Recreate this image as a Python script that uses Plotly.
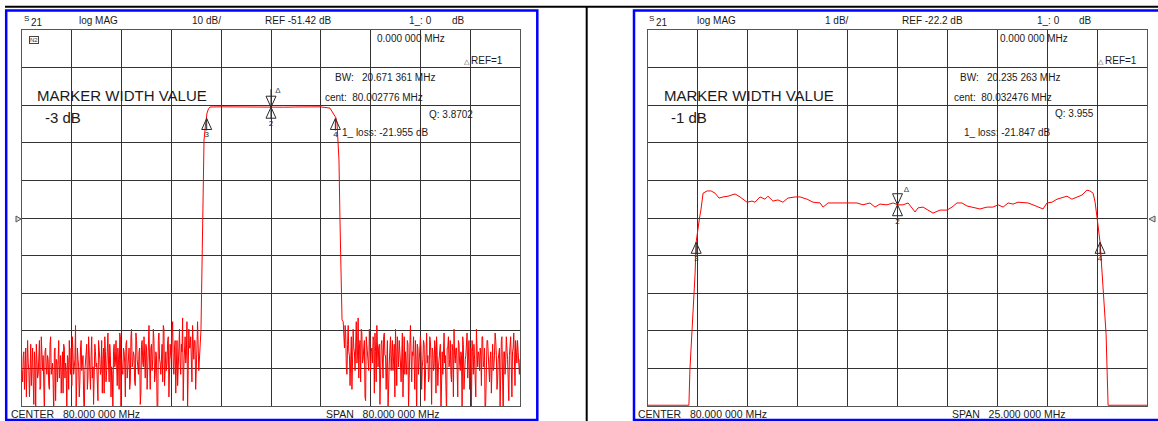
import numpy as np
import plotly.graph_objects as go

W, H = 1158, 421
FONT = "Liberation Sans, Arial, sans-serif"

# ---------------- Left screen: S21 log MAG, 10 dB/div ----------------
L_CENTER_MHZ = 80.0
L_SPAN_MHZ = 80.0
L_REF_DB = -51.42
L_DB_PER_DIV = 10.0

L_NOISE_LOW_RANGE = (40.0, 68.4)
L_NOISE_LOW_DB = [
    -92, -88, -97, -86, -94, -90, -99, -85, -91, -95,
    -87, -102, -89, -93, -84, -96, -90, -88, -104, -86,
    -93, -89, -97, -83, -91, -95, -87, -100, -90, -85,
    -94, -88, -92, -98, -86, -90, -103, -89, -84, -93,
    -96, -87, -91, -80, -95, -89, -99, -86, -92, -88,
    -105, -90, -85, -94, -88, -97, -83, -91, -96, -87,
    -90, -100, -86, -93, -84, -89, -98, -87, -92, -82,
    -95, -88, -91, -103, -85, -90, -94, -86, -97, -83,
    -89, -93, -87, -99, -84, -91, -86, -95, -81, -90,
    -88, -96, -84, -92, -87, -101, -85, -90, -83, -94,
    -86, -91, -80, -97, -85, -89, -84, -93, -88, -104,
    -82, -90, -86, -95, -81, -88, -92, -84, -99, -85,
    -89, -79, -93, -84, -87, -96, -82, -90, -85, -78,
    -91, -83, -88, -102, -81, -86, -94, -80, -89, -84,
    -87, -79, -92,
]
# readings taken half-way between the samples above
L_NOISE_LOW_MID_DB = [
    -95, -87, -90, -99, -84, -92, -88, -96, -86, -101,
    -90, -85, -94, -89, -97, -83, -92, -100, -87, -91,
    -88, -96, -85, -93, -90, -104, -86, -89, -95, -84,
    -91, -98, -87, -85, -94, -92, -88, -97, -90, -86,
    -83, -93, -89, -102, -86, -91, -95, -84, -88, -99,
    -92, -86, -97, -83, -90, -88, -94, -101, -85, -91,
    -96, -84, -89, -92, -98, -86, -83, -95, -88, -90,
    -85, -99, -93, -87, -91, -84, -96, -89, -82, -103,
    -92, -86, -90, -85, -94, -88, -97, -83, -91, -87,
    -95, -82, -89, -93, -86, -98, -84, -91, -88, -85,
    -97, -83, -90, -86, -92, -81, -95, -87, -102, -84,
    -89, -93, -85, -80, -96, -87, -90, -83, -94, -88,
    -82, -91, -86, -98, -84, -89, -81, -93, -87, -100,
    -85, -90, -79, -92, -86, -83, -95, -88, -84, -97,
    -86, -90,
]
L_NOISE_HIGH_RANGE = (91.6, 120.0)
L_NOISE_HIGH_DB = [
    -79, -86, -82, -93, -80, -88, -84, -97, -81, -87,
    -83, -90, -78, -86, -95, -82, -89, -84, -100, -85,
    -88, -81, -92, -86, -83, -98, -87, -80, -91, -85,
    -89, -84, -94, -82, -88, -86, -103, -90, -83, -87,
    -92, -85, -81, -96, -88, -84, -90, -86, -99, -83,
    -87, -93, -85, -89, -80, -95, -88, -91, -84, -105,
    -86, -90, -83, -97, -89, -85, -92, -82, -88, -94,
    -84, -101, -87, -91, -86, -83, -96, -89, -85, -90,
    -93, -82, -88, -104, -86, -91, -84, -95, -87, -81,
    -90, -86, -99, -85, -92, -88, -83, -97, -89, -86,
    -94, -84, -90, -102, -87, -85, -93, -81, -91, -88,
    -86, -96, -83, -90, -105, -87, -84, -92, -89, -98,
    -85, -91, -82, -88, -95, -86, -103, -84, -90, -87,
    -93, -83, -89, -100, -85, -91, -87, -82, -96, -88,
    -84, -92, -89,
]
L_NOISE_HIGH_MID_DB = [
    -84, -80, -91, -85, -87, -96, -83, -89, -86, -92,
    -79, -88, -94, -84, -81, -90, -86, -99, -83, -88,
    -92, -85, -87, -90, -84, -82, -95, -89, -86, -101,
    -85, -91, -83, -88, -97, -84, -90, -86, -92, -84,
    -89, -99, -87, -83, -91, -86, -95, -82, -88, -93,
    -90, -84, -102, -86, -92, -87, -83, -97, -89, -85,
    -93, -88, -86, -91, -84, -100, -87, -90, -95, -83,
    -89, -86, -92, -84, -98, -88, -91, -85, -104, -87,
    -84, -90, -96, -86, -83, -89, -93, -85, -99, -88,
    -86, -92, -84, -90, -87, -103, -85, -91, -88, -82,
    -90, -97, -86, -84, -93, -89, -99, -85, -87, -92,
    -88, -83, -91, -86, -100, -84, -90, -95, -87, -85,
    -92, -88, -84, -97, -89, -86, -91, -83, -105, -87,
    -90, -85, -94, -88, -83, -99, -86, -92, -84, -90,
    -87, -93,
]
L_PASS_F = [68.75, 68.92, 69.08, 69.24, 69.48, 69.72, 69.96, 70.2, 72.0, 74.0,
            76.0, 78.0, 80.0, 82.0, 84.0, 86.0, 87.9, 89.48, 89.96, 90.44,
            90.6, 90.76, 90.92, 91.08, 91.24, 91.41]
L_PASS_DB = [-81.2, -59.9, -36.0, -30.7, -26.7, -23.5, -22.4, -21.9, -21.85, -21.9,
             -21.95, -21.95, -21.955, -21.95, -21.9, -21.9, -21.85, -22.2, -23.5, -24.8,
             -26.2, -30.7, -36.0, -51.9, -67.9, -78.5]
L_MARK_F = [80.0, 80.0, 69.67, 90.34]
L_MARK_DB = [-21.955, -21.955, -24.955, -24.955]
MARK_LABELS = ["1", "2", "3", "4"]

# ---------------- Right screen: S21 log MAG, 1 dB/div ----------------
R_CENTER_MHZ = 80.0
R_SPAN_MHZ = 25.0
R_REF_DB = -22.2
R_DB_PER_DIV = 1.0

R_F = [67.5, 69.55, 69.6, 69.7, 69.8, 69.86, 69.91, 69.98, 70.08, 70.15,
       70.26, 70.46, 70.66, 70.86, 71.06, 71.26, 71.51, 71.86, 72.11, 72.46,
       72.71, 72.86, 73.11, 73.36, 73.51, 73.76, 74.01, 74.26, 74.51, 74.87,
       75.12, 75.47, 75.77, 76.12, 76.27, 76.52, 76.97, 77.27, 77.62, 77.97,
       78.27, 78.62, 78.87, 79.12, 79.47, 79.78, 80.03, 80.28, 80.53, 80.73,
       80.88, 81.03, 81.28, 81.78, 82.13, 82.48, 82.73, 82.98, 83.23, 83.48,
       83.78, 84.13, 84.48, 84.78, 85.04, 85.29, 85.54, 85.79, 86.04, 86.29,
       86.54, 86.79, 87.04, 87.29, 87.49, 87.74, 87.99, 88.24, 88.49, 88.74,
       88.99, 89.24, 89.49, 89.64, 89.8, 89.9, 90.0, 90.15, 90.25, 90.35,
       90.45, 90.5, 90.55, 92.5]
R_DB = [-27.18, -27.18, -26.24, -25.29, -24.38, -23.66, -22.85, -22.52, -22.2, -21.99,
        -21.54, -21.48, -21.48, -21.54, -21.67, -21.64, -21.62, -21.56, -21.64, -21.78,
        -21.75, -21.78, -21.64, -21.7, -21.62, -21.75, -21.72, -21.78, -21.67, -21.64,
        -21.64, -21.7, -21.78, -21.8, -21.91, -21.8, -21.8, -21.78, -21.8, -21.8,
        -21.85, -21.8, -21.91, -21.83, -21.85, -21.8, -21.85, -21.85, -21.8, -21.93,
        -22.04, -21.93, -21.91, -22.07, -21.99, -21.99, -21.91, -21.8, -21.8, -21.88,
        -21.91, -21.96, -21.91, -21.91, -21.85, -21.91, -21.8, -21.83, -21.78, -21.8,
        -21.8, -21.85, -21.91, -21.96, -21.8, -21.78, -21.7, -21.67, -21.62, -21.7,
        -21.64, -21.59, -21.46, -21.48, -21.54, -21.78, -22.2, -22.85, -23.66, -24.38,
        -25.29, -26.24, -27.18, -27.18]
R_MARK_F = [80.0, 80.0, 69.915, 90.15]
R_MARK_DB = [-21.847, -21.847, -22.847, -22.847]

# ---------------- geometry (pixels of the 1158x421 page) ----------------
GRID_TOP, GRID_BOT = 30, 406
L_X0, L_X1 = 22, 520
R_X0, R_X1 = 648, 1147


def px(x):
    return x / W


def py(y):
    return 1 - y / H


def ranges(center, span, ref, div):
    return [center - span / 2, center + span / 2], [ref - 5 * div, ref + 5 * div]


LXR, LYR = ranges(L_CENTER_MHZ, L_SPAN_MHZ, L_REF_DB, L_DB_PER_DIV)
RXR, RYR = ranges(R_CENTER_MHZ, R_SPAN_MHZ, R_REF_DB, R_DB_PER_DIV)

fig = go.Figure()
RED = "#ff0000"
MK = "#2a2a2a"


def interleave(rng, main, mid):
    step = (rng[1] - rng[0]) / (len(main) - 1)
    xs, ys = [], []
    for i, v in enumerate(main):
        xs.append(rng[0] + i * step)
        ys.append(v)
        if i < len(mid):
            xs.append(rng[0] + (i + 0.5) * step)
            ys.append(mid[i])
    return xs, ys


def add_markers(fs, dbs, xr, yr, x0p, x1p, xa, ya, delta_dx, delta_dy):
    xpp = (xr[1] - xr[0]) / (x1p - x0p)
    ypp = (yr[1] - yr[0]) / (GRID_BOT - GRID_TOP)
    hx, h = 5 * xpp, 11 * ypp
    xs, ys, tx, ty, tt = [], [], [], [], []
    for i, (f, d) in enumerate(zip(fs, dbs)):
        if i == 0:
            xs += [f - hx, f + hx, f, f - hx, None, f, f, None]
            ys += [d + h, d + h, d, d + h, None, d + h + 7 * ypp, d, None]
        else:
            xs += [f - hx, f + hx, f, f - hx, None, f, f, None]
            ys += [d - h, d - h, d, d - h, None, d, d - h - 1 * ypp, None]
            tx.append(f)
            ty.append(d - h - 6 * ypp)
            tt.append(MARK_LABELS[i])
    fig.add_trace(go.Scatter(x=xs, y=ys, mode="lines", line=dict(color=MK, width=1),
                             xaxis=xa, yaxis=ya, hoverinfo="skip"))
    fig.add_trace(go.Scatter(x=tx, y=ty, mode="text", text=tt,
                             textfont=dict(family=FONT, size=8, color=MK),
                             xaxis=xa, yaxis=ya, hoverinfo="skip"))
    fig.add_trace(go.Scatter(x=[fs[0] + delta_dx * xpp], y=[dbs[0] + delta_dy * ypp],
                             mode="text", text=["Δ"],
                             textfont=dict(family=FONT, size=8, color="#444"),
                             xaxis=xa, yaxis=ya, hoverinfo="skip"))


# left traces
lo_x, lo_y = interleave(L_NOISE_LOW_RANGE, L_NOISE_LOW_DB, L_NOISE_LOW_MID_DB)
hi_x, hi_y = interleave(L_NOISE_HIGH_RANGE, L_NOISE_HIGH_DB, L_NOISE_HIGH_MID_DB)
lx = lo_x + L_PASS_F + hi_x
ly = lo_y + L_PASS_DB + hi_y
fig.add_trace(go.Scatter(x=lx, y=ly, mode="lines", line=dict(color=RED, width=1),
                         xaxis="x", yaxis="y", hoverinfo="skip"))
add_markers(L_MARK_F, L_MARK_DB, LXR, LYR, L_X0, L_X1, "x", "y", 7, 16)

# right traces
fig.add_trace(go.Scatter(x=R_F, y=R_DB, mode="lines", line=dict(color=RED, width=1),
                         xaxis="x2", yaxis="y2", hoverinfo="skip"))
add_markers(R_MARK_F, R_MARK_DB, RXR, RYR, R_X0, R_X1, "x2", "y2", 9, 15)

GRID = "#333333"


def ax(domain, rng, dtick):
    return dict(domain=domain, range=rng, dtick=dtick, tick0=rng[0], showgrid=True,
                gridcolor=GRID, gridwidth=1, zeroline=False, showticklabels=False,
                ticks="", showline=True, mirror=True, linecolor="#555555", linewidth=1,
                fixedrange=True)


ydom = [py(GRID_BOT), py(GRID_TOP)]
fig.update_layout(
    width=W, height=H, margin=dict(l=0, r=0, t=0, b=0),
    paper_bgcolor="white", plot_bgcolor="white", showlegend=False,
    xaxis=ax([px(L_X0), px(L_X1)], LXR, L_SPAN_MHZ / 10),
    yaxis=ax(ydom, LYR, L_DB_PER_DIV),
    xaxis2=dict(ax([px(R_X0), px(R_X1)], RXR, R_SPAN_MHZ / 10), anchor="y2"),
    yaxis2=dict(ax(ydom, RYR, R_DB_PER_DIV), anchor="x2"),
)

# frame shapes
BLUE = "#0000ff"
shapes = [
    dict(type="line", xref="paper", yref="paper", x0=px(5), x1=1.0, y0=py(6.8), y1=py(6.8),
         line=dict(color="black", width=2)),
    dict(type="line", xref="paper", yref="paper", x0=px(586.7), x1=px(586.7), y0=py(6), y1=0,
         line=dict(color="black", width=2)),
    dict(type="rect", xref="paper", yref="paper", x0=px(6.2), x1=px(537.3), y0=py(420), y1=py(10.5),
         line=dict(color=BLUE, width=2.5)),
    dict(type="rect", xref="paper", yref="paper", x0=px(634), x1=px(1175), y0=py(420), y1=py(10.5),
         line=dict(color=BLUE, width=2.5)),
    dict(type="path", xref="paper", yref="paper",
         path=f"M {px(16)},{py(216)} L {px(21)},{py(219)} L {px(16)},{py(222)} Z",
         line=dict(color="#555", width=1), fillcolor="#dddddd"),
    dict(type="path", xref="paper", yref="paper",
         path=f"M {px(1155)},{py(216)} L {px(1149)},{py(219)} L {px(1155)},{py(222)} Z",
         line=dict(color="#555", width=1), fillcolor="#dddddd"),
]
fig.update_layout(shapes=shapes)

ann = []
NB = "\u00a0"


def txt(x, y, s, size=10, color="#1a1a1a", **kw):
    d = dict(x=px(x), y=py(y), xref="paper", yref="paper", text=s, showarrow=False,
             xanchor="left", yanchor="middle", font=dict(family=FONT, size=size, color=color))
    d.update(kw)
    ann.append(d)


# header rows
for (xs, x21, xlog, xdiv, divtxt, xref, reftxt, x1, xdb) in [
    (22, 29, 77, 190, "10 dB/", 263, "REF -51.42 dB", 407, 450),
    (647, 654, 695, 823, "1 dB/", 900, "REF -22.2 dB", 1035, 1077),
]:
    txt(xs, 18, "S", size=8)
    txt(x21, 23, "21", size=10)
    txt(xlog, 20, "log MAG")
    txt(xdiv, 20, divtxt)
    txt(xref, 20, reftxt)
    txt(x1, 20, "1_:" + NB + "0")
    txt(xdb, 20, "dB")

# left readouts
txt(375, 39, "0.000 000 MHz")
txt(462, 61, "△", size=7, color="#444")
txt(469, 60, "REF=1")
txt(333, 78, "BW:" + NB * 3 + "20.671 361 MHz")
txt(323, 97, "cent:" + NB * 2 + "80.002776 MHz")
txt(427, 114, "Q: 3.8702")
txt(340, 133, "1_ loss: -21.955 dB")
txt(35, 96, "MARKER WIDTH VALUE", size=15)
txt(43, 117, "-3 dB", size=15)
txt(29, 40, "N2", size=6, color="#333", bordercolor="#444", borderwidth=1, borderpad=0)
txt(9, 414, "CENTER" + NB * 3 + "80.000 000 MHz", size=10.5)
txt(324, 414, "SPAN" + NB * 3 + "80.000 000 MHz", size=10.5)

# right readouts
txt(998, 39, "0.000 000 MHz")
txt(1096, 61, "△", size=7, color="#444")
txt(1103, 60, "REF=1")
txt(958, 78, "BW:" + NB * 3 + "20.235 263 MHz")
txt(952, 97, "cent:" + NB * 2 + "80.032476 MHz")
txt(1053, 113, "Q: 3.955")
txt(962, 133, "1_ loss: -21.847 dB")
txt(662, 96, "MARKER WIDTH VALUE", size=15)
txt(669, 117, "-1 dB", size=15)
txt(636, 414, "CENTER" + NB * 3 + "80.000 000 MHz", size=10.5)
txt(950, 414, "SPAN" + NB * 3 + "25.000 000 MHz", size=10.5)

fig.update_layout(annotations=ann)
fig.write_html(
    "out.html",
    config={"displayModeBar": False, "staticPlot": True},
    post_script="document.body.style.margin='0';document.body.style.overflow='hidden';",
)
